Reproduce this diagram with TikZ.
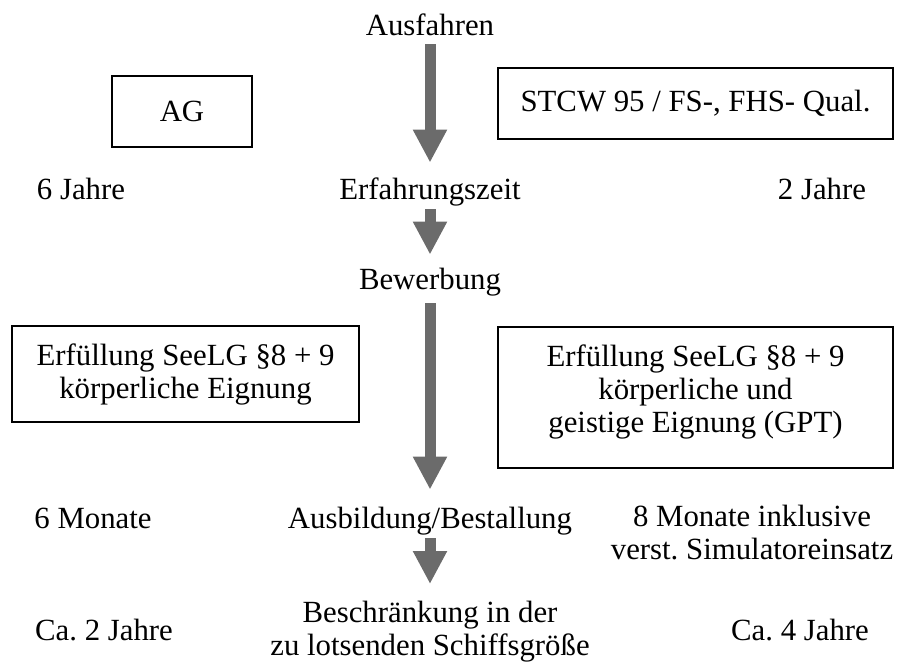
\documentclass[tikz,border=0pt]{standalone}
\usepackage{fontspec}
\setmainfont{Liberation Serif}
\usetikzlibrary{arrows.meta,positioning}
\definecolor{arrowgray}{HTML}{6B6B6B}
\frenchspacing

\begin{document}
\begin{tikzpicture}[
    x=0.5pt,y=-0.5pt,
    every node/.style={font=\fontsize{15.4}{16.5}\selectfont},
    lbl/.style={inner sep=0pt,text height=10.5pt,text depth=3pt,anchor=base},
    multi/.style={inner sep=0pt,align=center,anchor=north},
    qbox/.style={draw,line width=0.7pt,align=center,inner sep=0pt},
    flow/.style={draw=arrowgray,line width=5.5pt,-{Triangle[width=16pt,length=16.5pt]},arrowgray}
  ]
    \useasboundingbox (0,0) rectangle (900,664);

    % centre column
    \node[lbl] (ausf) at (430,35) {Ausfahren};
    \node[lbl] (erf) at (430,199) {Erfahrungszeit};
    \node[lbl] (bew) at (430,289) {Bewerbung};
    \node[lbl] (ausb) at (430,528) {Ausbildung/Bestallung};
    \node[multi] (beschr) at (430,601) {Beschränkung in der\\zu lotsenden Schiffsgröße};

    % left side
    \node[qbox,minimum width=70pt,minimum height=35.5pt] (ag) at (182,111.5) {AG};
    \node[lbl] (j6) at (81,199) {6 Jahre};
    \node[qbox,minimum width=173.5pt,minimum height=48pt] (req1) at (185.5,374) {Erfüllung SeeLG §8 + 9\\körperliche Eignung};
    \node[lbl] (m6) at (93,528) {6 Monate};
    \node[lbl] (ca2) at (104,640) {Ca. 2 Jahre};

    % right side
    \node[qbox,minimum width=197.5pt,minimum height=35.5pt] (stcw) at (695.5,103.5) {STCW 95 / FS-, FHS- Qual.};
    \node[lbl] (j2) at (822,199) {2 Jahre};
    \node[qbox,minimum width=197.5pt,minimum height=70.5pt,text depth=9pt] (req2) at (695.5,397.5) {Erfüllung SeeLG §8 + 9\\körperliche und\\geistige Eignung (GPT)};
    \node[multi] (m8) at (752,505) {8 Monate inklusive\\verst. Simulatoreinsatz};
    \node[lbl] (ca4) at (800,640) {Ca. 4 Jahre};

    \draw[flow,shorten <=1.5pt,shorten >=7.5pt] (ausf.south) -- (erf.north);
    \draw[flow,shorten <=2pt,shorten >=6.5pt] (erf.south) -- (bew.north);
    \draw[flow,shorten <=4pt,shorten >=8.5pt] (bew.south) -- (ausb.north);
    \draw[flow,shorten <=2pt,shorten >=8.5pt] (ausb.south) -- (beschr.north);
  \end{tikzpicture}
\end{document}
